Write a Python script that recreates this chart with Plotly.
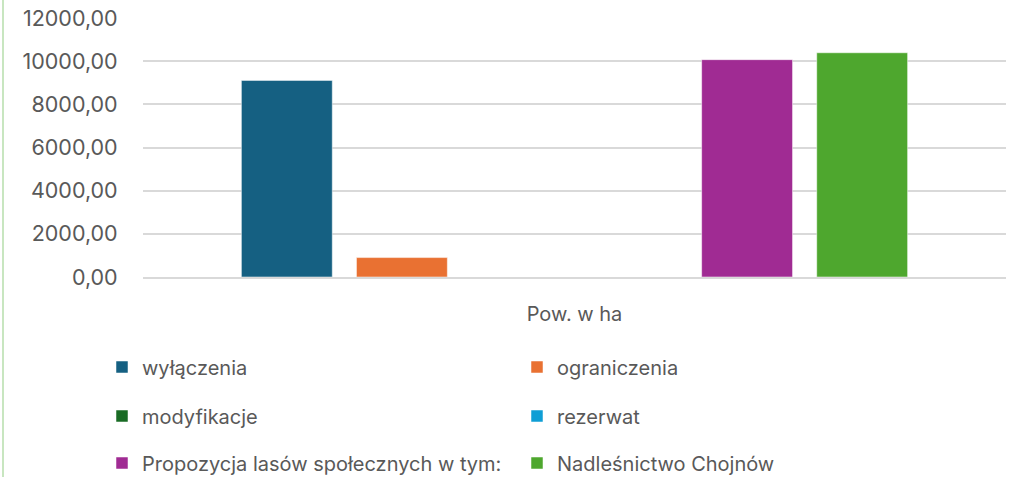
import plotly.graph_objects as go

categories = ["Pow. w ha"]
series_names = ["wyłączenia", "ograniczenia", "modyfikacje", "rezerwat",
                "Propozycja lasów społecznych w tym:", "Nadleśnictwo Chojnów"]
series_values = [[9110], [900], [0], [0], [10070], [10390]]
series_colors = ["#156082", "#E97132", "#196B24", "#0F9ED5", "#A02B93", "#4EA72E"]
legend_ids = ["legend", "legend", "legend2", "legend2", "legend3", "legend3"]

W, H = 1015, 477
ML, MR, MT, MB = 143, 9, 18, 200
PW, PH = W - ML - MR, H - MT - MB

FONT = "Inter"
TXT = "#595959"

fig = go.Figure()
for name, vals, col, lg in zip(series_names, series_values, series_colors, legend_ids):
    fig.add_trace(go.Bar(
        x=categories, y=vals, name=name, legend=lg,
        marker=dict(color=col, line=dict(color="rgba(255,255,255,0.5)", width=1)),
    ))

def px_to_x(px):
    return (px - ML) / PW

def px_to_y(py):
    return (H - MB - py) / PH

legend_rows = {"legend": 367, "legend2": 416, "legend3": 463}
legend_kw = {}
for lg, ypx in legend_rows.items():
    legend_kw[lg] = dict(
        orientation="h", x=px_to_x(102), xanchor="left",
        y=px_to_y(ypx), yanchor="middle",
        entrywidth=370, entrywidthmode="pixels",
        font=dict(family=FONT, size=20, color=TXT),
        bgcolor="rgba(0,0,0,0)", itemclick=False, traceorder="normal",
    )

fig.update_layout(
    width=W, height=H,
    margin=dict(l=ML, r=MR, t=MT, b=MB, autoexpand=False),
    paper_bgcolor="white", plot_bgcolor="white",
    barmode="group", bargap=0.2, bargroupgap=0.21,
    separators=", ",
    font=dict(family=FONT, size=20, color=TXT),
    **legend_kw,
)
fig.update_yaxes(
    range=[0, 12000], dtick=2000, tickformat=".2f",
    showgrid=True, gridcolor="#D9D9D9", gridwidth=1.5,
    zeroline=False, showline=False,
    tickfont=dict(family=FONT, size=21.5, color=TXT),
    ticks="outside", ticklen=20, tickcolor="rgba(0,0,0,0)",
)
fig.update_xaxes(
    showline=True, linecolor="#D9D9D9", linewidth=1.5,
    tickfont=dict(family=FONT, size=20, color=TXT),
    ticks="outside", ticklen=18, tickcolor="rgba(0,0,0,0)",
)
fig.add_shape(type="line", xref="paper", yref="paper",
              x0=px_to_x(3), x1=px_to_x(3), y0=px_to_y(0), y1=px_to_y(H),
              line=dict(color="#C8E6C0", width=2))

fig.write_html(
    "out.html",
    config={"displayModeBar": False},
    post_script="document.body.style.margin='0';document.body.style.overflow='hidden';",
)
